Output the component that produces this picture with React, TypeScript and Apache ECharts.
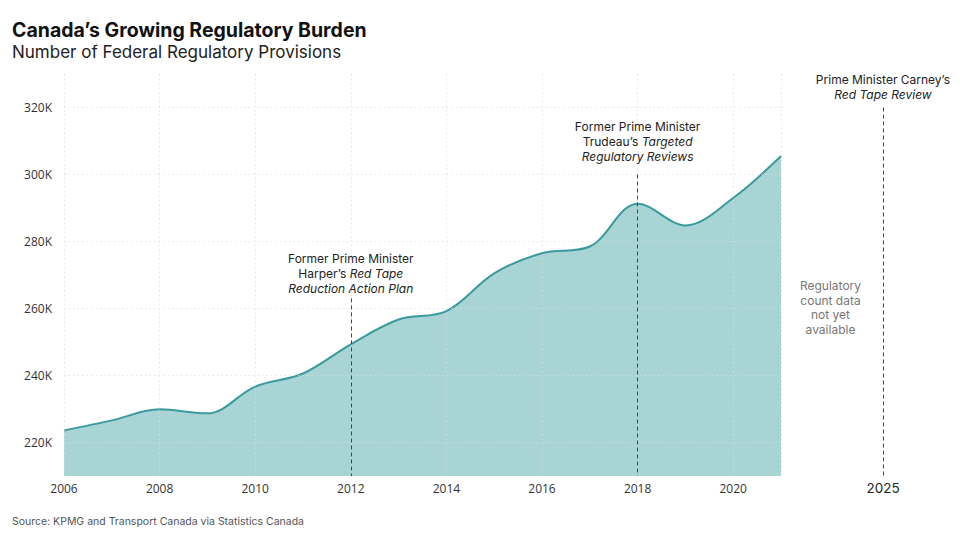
import React, { useEffect, useRef } from "react";
import * as echarts from "echarts";

const years = [2006, 2007, 2008, 2009, 2010, 2011, 2012, 2013, 2014, 2015, 2016, 2017, 2018, 2019, 2020, 2021];
const provisionsK = [223.6, 226.6, 229.9, 228.7, 236.7, 240.6, 249.3, 256.7, 259.2, 270.5, 276.5, 278.5, 291.3, 284.8, 293, 305.5];
const yTicks = [220, 240, 260, 280, 300, 320];
const xTicks = [2006, 2008, 2010, 2012, 2014, 2016, 2018, 2020];
const annotations = [
  { year: 2012, top: 263, gap: 2, text: "{n|Former Prime Minister}\n{n|Harper’s }{i|Red Tape}\n{i|Reduction Action Plan}" },
  { year: 2018, top: 300, gap: 11, text: "{n|Former Prime Minister}\n{n|Trudeau’s }{i|Targeted}\n{i|Regulatory Reviews}" },
];
const futureYear = 2025;
const futureTop = 320;
const futureText = "{n|Prime Minister Carney’s}\n{i|Red Tape Review}";
const noteText = "Regulatory\ncount data\nnot yet\navailable";
const notePos = [2023.95, 260.3];

const FONT = "Inter, 'Noto Sans', sans-serif";
const AXIS_FONT = "'Open Sans', 'Noto Sans', sans-serif";

const rich = {
  n: { fontFamily: FONT, fontSize: 12, color: "#222", lineHeight: 15 },
  i: { fontFamily: FONT, fontSize: 12, color: "#222", fontStyle: "italic", lineHeight: 15 },
};

export default function App() {
  const ref = useRef<HTMLDivElement>(null);
  useEffect(() => {
    if (!ref.current) return;
    const chart = echarts.init(ref.current, null, { renderer: "svg" });
    const gridLineStyle = { type: [1.5, 3], color: "rgba(220,220,220,0.75)", width: 1 };
    chart.setOption({
      animation: false,
      backgroundColor: "#fff",
      title: [
        { text: "Canada’s Growing Regulatory Burden", left: 12, top: 20, padding: 0, textStyle: { fontFamily: FONT, fontSize: 19.5, fontWeight: "bold", color: "#111" } },
        { text: "Number of Federal Regulatory Provisions", left: 12, top: 43, padding: 0, textStyle: { fontFamily: FONT, fontSize: 17, fontWeight: "normal", color: "#222" } },
        { text: "Source: KPMG and Transport Canada via Statistics Canada", left: 12, top: 516, padding: 0, textStyle: { fontFamily: FONT, fontSize: 10.5, fontWeight: "normal", color: "#555" } },
      ],
      grid: [
        { left: 64, top: 74, width: 717, height: 402 },
        { left: 783, top: 74, width: 150, height: 402 },
      ],
      xAxis: [
        {
          type: "value", gridIndex: 0, min: 2006, max: 2021, interval: 2, z: 5,
          axisLine: { show: false }, axisTick: { show: false },
          axisLabel: { margin: 6, fontFamily: AXIS_FONT, fontSize: 12, color: "#333", formatter: (v: number) => (xTicks.includes(v) ? String(v) : "") },
          splitLine: { show: true, lineStyle: gridLineStyle },
        },
        {
          type: "value", gridIndex: 1, min: 2023, max: 2026, interval: 1,
          axisLine: { show: false }, axisTick: { show: false },
          axisLabel: { margin: 5, fontFamily: FONT, fontSize: 13.5, color: "#222", formatter: (v: number) => (v === futureYear ? String(v) : "") },
          splitLine: { show: false },
        },
      ],
      yAxis: [
        {
          type: "value", gridIndex: 0, min: 210, max: 330, interval: 10,
          axisLine: { show: false }, axisTick: { show: false },
          axisLabel: { margin: 12, fontFamily: AXIS_FONT, fontSize: 12, color: "#333", formatter: (v: number) => (yTicks.includes(v) ? v + "K" : "") },
          splitLine: { show: false },
        },
        {
          type: "value", gridIndex: 1, min: 210, max: 330, interval: 10, show: false,
        },
      ],
      series: [
        {
          type: "line",
          xAxisIndex: 0, yAxisIndex: 0,
          data: years.map((y, i) => [y, provisionsK[i]]),
          smooth: 0.35,
          showSymbol: false,
          lineStyle: { color: "#3a9a9d", width: 2 },
          areaStyle: { color: "#a8d4d6", opacity: 1, origin: "start" },
          z: 2,
          markLine: {
            silent: true,
            symbol: "none",
            animation: false,
            label: { show: false },
            data: [
              ...yTicks.map((t) => ({ yAxis: t, lineStyle: gridLineStyle, label: { show: false } })),
              ...annotations.map((a) => [
                {
                  coord: [a.year, a.top],
                  lineStyle: { type: [4, 3], color: "#444", width: 1 },
                  label: { show: true, position: "start", distance: a.gap, formatter: a.text, rich, align: "center" },
                },
                { coord: [a.year, 210] },
              ]),
            ],
          },
        },
        {
          type: "line",
          xAxisIndex: 1, yAxisIndex: 1,
          data: [],
          showSymbol: false,
          markLine: {
            silent: true,
            symbol: "none",
            animation: false,
            data: [
              [
                {
                  coord: [futureYear, futureTop],
                  lineStyle: { type: [4, 3], color: "#444", width: 1 },
                  label: { show: true, position: "start", distance: 6, formatter: futureText, rich, align: "center" },
                },
                { coord: [futureYear, 210] },
              ],
            ],
          },
          markPoint: {
            silent: true,
            symbol: "circle",
            symbolSize: 1,
            itemStyle: { color: "rgba(0,0,0,0)" },
            data: [
              {
                coord: notePos,
                label: { show: true, position: "inside", formatter: noteText, fontFamily: FONT, fontSize: 12, lineHeight: 14.5, color: "#777", align: "center" },
              },
            ],
          },
        },
      ],
    });
    return () => chart.dispose();
  }, []);
  return <div ref={ref} style={{ position: "fixed", left: 0, top: 0, width: 960, height: 540 }} />;
}
